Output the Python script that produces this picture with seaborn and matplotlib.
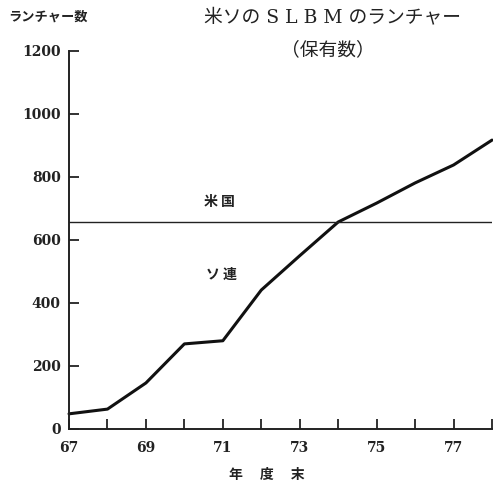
import seaborn as sns
import pandas as pd
import matplotlib.pyplot as plt

years = [67, 68, 69, 70, 71, 72, 73, 74, 75, 76, 77, 78]
soviet = [48, 63, 146, 270, 280, 441, 550, 657, 717, 781, 838, 917]
us_level = 656
x_ticks = list(range(67, 79))
x_labels = ["67", "", "69", "", "71", "", "73", "", "75", "", "77", ""]
y_ticks = [0, 200, 400, 600, 800, 1000, 1200]

df = pd.DataFrame({"year": years, "launchers": soviet})

sns.set_style("ticks")
plt.rcParams['font.family'] = ['Noto Sans CJK JP', 'DejaVu Sans']

fig = plt.figure(figsize=(4.93, 4.88), dpi=100)
ax = fig.add_axes([0.14, 0.121, 0.858, 0.7746])

sns.lineplot(data=df, x="year", y="launchers", color="#111111", linewidth=2.2, ax=ax, clip_on=False)
ax.axhline(us_level, color="#222222", linewidth=1.0)

ax.set_xlim(67, 78)
ax.set_ylim(0, 1200)
ax.set_xticks(x_ticks)
ax.set_xticklabels(x_labels)
ax.set_yticks(y_ticks)
ax.tick_params(direction="in", length=7, width=1.3, color="#222222", pad=6)
ax.tick_params(axis="x", pad=9)
for lab in ax.get_xticklabels() + ax.get_yticklabels():
    lab.set_fontfamily("DejaVu Serif")
    lab.set_fontweight("bold")
    lab.set_fontsize(10)
    lab.set_color("#222222")

for side in ["top", "right"]:
    ax.spines[side].set_visible(False)
for side in ["left", "bottom"]:
    ax.spines[side].set_linewidth(1.4)
    ax.spines[side].set_color("#222222")

ax.set_xlabel("")
ax.set_ylabel("")

fig.text(8 / 493, 1 - 17 / 488, "ランチャー数", fontsize=9.5, fontweight="bold",
         va="center", ha="left", color="#222222")
fig.text(333 / 493, 1 - 17 / 488, "米ソの S L B M のランチャー", fontsize=13.5,
         family=["DejaVu Serif", "Noto Sans CJK JP"],
         va="center", ha="center", color="#222222")
fig.text(328 / 493, 1 - 50 / 488, "（保有数）", fontsize=13.5,
         va="center", ha="center", color="#222222")
fig.text(219 / 493, 1 - 202 / 488, "米 国", fontsize=10, fontweight="bold",
         va="center", ha="center", color="#222222")
fig.text(221 / 493, 1 - 275 / 488, "ソ 連", fontsize=10, fontweight="bold",
         va="center", ha="center", color="#222222")
fig.text(267 / 493, 1 - 475 / 488, "年　 度　 末", fontsize=10, fontweight="bold",
         va="center", ha="center", color="#222222")

fig.savefig("out.png", dpi=100, facecolor="white")
